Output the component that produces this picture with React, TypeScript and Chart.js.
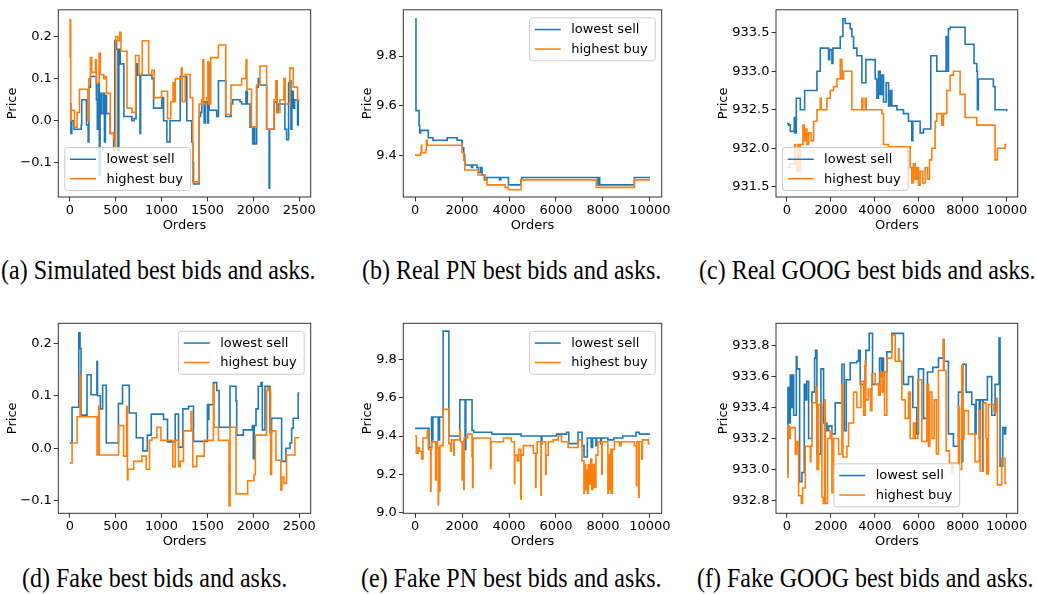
import React, { useEffect, useRef } from "react";
import { Chart, registerables } from "chart.js";

Chart.register(...registerables);

type Pt = [number, number];

// ---------- tick labels ----------
const ORDERS_SIM = [0, 500, 1000, 1500, 2000, 2500];
const ORDERS_REAL = [0, 2000, 4000, 6000, 8000, 10000];
const TICKS_SIM_Y = [-0.1, 0.0, 0.1, 0.2];
const TICKS_PN_REAL_Y = [9.4, 9.6, 9.8];
const TICKS_GOOG_REAL_Y = [931.5, 932.0, 932.5, 933.0, 933.5];
const TICKS_FAKE_Y = [-0.1, 0.0, 0.1, 0.2];
const TICKS_PN_FAKE_Y = [9.0, 9.2, 9.4, 9.6, 9.8];
const TICKS_GOOG_FAKE_Y = [932.8, 933.0, 933.2, 933.4, 933.6, 933.8];

const SERIES_NAMES = ["lowest sell", "highest buy"];
const CAPTIONS = [
  "(a) Simulated best bids and asks.",
  "(b) Real PN best bids and asks.",
  "(c) Real GOOG best bids and asks.",
  "(d) Fake best bids and asks.",
  "(e) Fake PN best bids and asks.",
  "(f) Fake GOOG best bids and asks.",
];

// ---------- (a) simulated ----------
const SIM_SELL: Pt[] = [[0,0.04],[12,-0.03],[22,0.0],[45,-0.02],[125,-0.01],[130,0.05],[182,-0.01],[200,-0.05],[208,0.08],[225,0.105],[290,0.05],[300,-0.02],[310,0.09],[322,-0.13],[330,0.065],[345,0.017],[365,0.065],[378,-0.05],[388,0.06],[400,0.017],[440,-0.03],[478,-0.07],[490,0.19],[510,0.17],[525,-0.07],[535,0.17],[550,0.135],[590,0.01],[677,0.0],[700,0.005],[722,0.135],[735,0.108],[765,-0.03],[772,0.108],[895,0.1],[913,0.03],[1003,0.055],[1022,0.0],[1058,-0.05],[1092,0.0],[1203,0.105],[1275,0.0],[1330,-0.05],[1340,-0.1],[1348,-0.15],[1409,0.01],[1425,0.02],[1438,0.045],[1464,-0.005],[1475,0.045],[1500,-0.005],[1511,0.135],[1518,0.025],[1601,0.01],[1620,0.095],[1699,0.01],[1757,0.04],[1775,0.05],[1855,0.045],[1873,0.04],[1920,0.07],[1935,0.04],[1964,-0.015],[1993,-0.055],[2005,-0.015],[2015,-0.055],[2036,0.08],[2054,0.1],[2065,0.085],[2145,-0.02],[2172,-0.16],[2178,-0.02],[2228,0.045],[2255,0.02],[2270,0.04],[2344,-0.02],[2362,-0.045],[2384,0.09],[2395,0.095],[2410,-0.02],[2420,0.07],[2435,0.03],[2450,0.05],[2482,-0.01],[2490,0.05],[2500,0.05]];
const SIM_BUY: Pt[] = [[0,0.15],[4,0.24],[10,0.0],[14,0.025],[51,-0.015],[80,0.02],[105,0.075],[196,0.0],[206,0.1],[225,0.15],[239,0.115],[280,0.145],[290,0.09],[320,0.16],[333,0.11],[370,0.1],[385,0.105],[400,0.065],[442,-0.03],[478,-0.04],[490,-0.07],[500,0.2],[522,0.19],[543,0.21],[558,0.165],[623,0.03],[677,0.02],[717,0.155],[754,0.11],[790,0.19],[859,0.11],[895,0.12],[920,0.055],[1000,0.07],[1065,0.005],[1101,0.045],[1125,0.09],[1137,0.045],[1150,0.1],[1215,0.125],[1225,0.045],[1257,0.11],[1311,0.055],[1340,-0.145],[1409,0.04],[1438,0.05],[1450,0.145],[1460,0.04],[1490,0.055],[1505,0.14],[1515,0.04],[1536,0.15],[1620,0.18],[1699,0.015],[1757,0.085],[1873,0.1],[1920,0.145],[1930,0.075],[1980,-0.015],[2036,0.085],[2072,0.13],[2145,-0.02],[2225,0.05],[2245,0.095],[2260,0.02],[2290,0.05],[2333,0.1],[2348,0.04],[2398,0.125],[2435,0.08],[2482,0.05],[2500,0.05]];

// ---------- (b) real PN ----------
const PN_REAL_SELL: Pt[] = [[0,9.95],[40,9.58],[170,9.52],[197,9.49],[240,9.50],[564,9.47],[762,9.46],[1368,9.47],[1791,9.46],[2003,9.43],[2073,9.40],[2116,9.36],[2400,9.35],[2450,9.36],[2637,9.35],[2708,9.33],[2800,9.35],[2849,9.32],[2950,9.30],[3060,9.31],[3600,9.30],[3650,9.31],[3977,9.28],[4500,9.30],[4541,9.31],[7786,9.28],[7820,9.31],[7860,9.28],[9337,9.31],[10000,9.31]];
const PN_REAL_BUY: Pt[] = [[0,9.40],[240,9.41],[270,9.44],[290,9.41],[451,9.42],[480,9.46],[522,9.44],[2003,9.41],[2073,9.38],[2116,9.34],[2680,9.32],[2990,9.30],[3060,9.28],[3836,9.27],[3977,9.26],[4513,9.30],[7715,9.27],[9337,9.30],[10000,9.30]];

// ---------- (c) real GOOG ----------
const GOOG_REAL_SELL: Pt[] = [[0,932.32],[76,932.30],[151,932.22],[333,932.40],[364,932.20],[424,932.65],[606,932.50],[803,932.75],[1364,933.00],[1515,933.30],[1894,933.15],[1940,933.28],[2045,933.10],[2090,933.30],[2424,933.45],[2545,933.68],[2651,933.62],[2878,933.55],[2954,933.45],[3030,933.30],[3181,933.20],[3409,932.85],[3590,933.15],[4015,932.90],[4090,932.65],[4166,933.00],[4242,932.70],[4318,932.95],[4394,932.60],[4515,932.85],[4621,932.55],[4697,932.75],[4772,932.55],[5000,932.50],[5303,932.45],[5530,932.35],[5681,932.10],[5727,932.35],[6060,932.20],[6212,932.25],[6545,933.20],[6818,933.00],[7242,933.45],[7272,933.00],[7348,933.55],[7424,933.57],[8105,933.35],[8514,933.10],[8636,933.00],[8666,932.50],[8711,932.90],[9393,932.80],[9469,932.50],[10000,932.48]];
const GOOG_REAL_BUY: Pt[] = [[0,931.75],[151,931.80],[348,932.05],[394,931.80],[454,931.70],[500,932.05],[530,931.70],[606,932.05],[727,932.30],[788,932.10],[833,932.25],[909,932.05],[985,932.20],[1091,932.10],[1212,932.35],[1364,932.50],[1515,932.65],[1560,932.50],[1818,932.65],[1970,932.75],[2121,932.80],[2272,932.90],[2424,933.15],[2500,932.90],[2575,933.00],[2954,932.50],[3409,932.65],[3454,932.50],[3560,932.65],[3606,932.50],[4318,932.45],[4394,932.05],[4621,932.02],[5606,931.75],[5681,931.55],[5757,931.80],[5833,931.60],[5909,931.75],[5984,931.52],[6060,931.70],[6181,931.55],[6287,931.75],[6394,931.60],[6485,931.85],[6590,932.00],[6742,932.35],[6818,932.45],[7045,932.30],[7121,932.45],[7272,932.75],[7424,932.95],[7575,933.00],[7878,932.70],[8105,932.40],[8636,932.30],[9469,931.85],[9575,932.00],[9924,932.05],[10000,932.05]];

// ---------- (d) fake ----------
const FAKE_SELL: Pt[] = [[0,0.01],[25,0.078],[98,0.22],[112,0.19],[123,0.063],[188,0.14],[232,0.102],[296,0.165],[302,0.1],[333,0.075],[358,0.12],[398,0.01],[530,0.085],[575,0.12],[648,0.067],[725,0.02],[797,-0.005],[845,0.025],[888,0.065],[1022,0.055],[1065,0.012],[1149,0.065],[1185,0.002],[1232,0.075],[1293,0.08],[1348,0.013],[1500,0.083],[1508,0.055],[1515,0.083],[1565,0.125],[1601,0.11],[1627,0.04],[1746,0.118],[1811,0.09],[1819,0.025],[1891,0.035],[1989,0.043],[2000,-0.02],[2010,0.043],[2029,0.075],[2054,0.118],[2085,0.125],[2098,0.035],[2127,0.118],[2181,0.03],[2199,0.057],[2308,-0.025],[2355,0.0],[2399,0.01],[2417,0.038],[2435,0.057],[2489,0.105],[2500,0.105]];
const FAKE_BUY: Pt[] = [[0,-0.028],[25,0.01],[80,0.06],[112,0.14],[120,0.06],[297,-0.013],[315,0.08],[322,-0.013],[532,0.043],[587,-0.015],[620,0.08],[628,-0.06],[634,-0.04],[696,-0.025],[786,-0.015],[833,-0.04],[869,0.015],[895,0.02],[949,0.04],[993,0.015],[1123,-0.035],[1149,0.015],[1185,-0.035],[1203,-0.025],[1239,0.033],[1322,0.07],[1330,0.033],[1340,-0.035],[1384,-0.015],[1464,0.015],[1565,0.12],[1572,0.04],[1620,0.015],[1735,-0.11],[1746,0.04],[1811,-0.087],[1938,-0.062],[2007,-0.05],[2022,0.025],[2145,0.11],[2155,0.115],[2170,0.11],[2188,-0.05],[2199,0.033],[2246,-0.023],[2300,-0.08],[2311,-0.055],[2333,-0.067],[2362,-0.013],[2453,0.02],[2500,0.02]];

// ---------- (e) fake PN ----------
const PN_FAKE_SELL: Pt[] = [[0,9.44],[592,9.34],[705,9.50],[730,9.38],[760,9.50],[987,9.38],[1044,9.50],[1199,9.95],[1439,9.40],[1904,9.59],[2130,9.33],[2160,9.59],[2426,9.43],[2496,9.42],[3272,9.41],[4513,9.40],[5370,9.36],[5400,9.40],[6022,9.41],[6446,9.42],[6544,9.36],[6939,9.42],[7109,9.35],[7193,9.29],[7334,9.39],[7500,9.34],[7560,9.39],[7700,9.35],[7730,9.39],[7900,9.36],[7930,9.39],[8209,9.38],[8463,9.39],[8843,9.40],[9407,9.42],[9548,9.41],[10000,9.41]];
const PN_FAKE_BUY: Pt[] = [[0,9.40],[56,9.31],[130,9.34],[180,9.32],[282,9.28],[338,9.39],[522,9.43],[564,9.33],[663,9.11],[680,9.33],[705,9.37],[874,9.17],[900,9.37],[960,9.34],[987,9.04],[1000,9.34],[1044,9.11],[1060,9.35],[1199,9.54],[1439,9.36],[1509,9.32],[1551,9.38],[1650,9.30],[1670,9.38],[1904,9.43],[1930,9.37],[2003,9.17],[2020,9.37],[2073,9.12],[2090,9.39],[2243,9.41],[2426,9.29],[2450,9.13],[2470,9.39],[3216,9.23],[3235,9.37],[3766,9.39],[4100,9.37],[4231,9.15],[4245,9.30],[4350,9.27],[4420,9.33],[4500,9.07],[4520,9.30],[4612,9.35],[5035,9.31],[5134,9.13],[5150,9.31],[5200,9.37],[5360,9.09],[5375,9.37],[5560,9.20],[5580,9.30],[5670,9.37],[5882,9.38],[6093,9.40],[6234,9.37],[6516,9.34],[6939,9.38],[7109,9.27],[7190,9.10],[7210,9.25],[7260,9.12],[7290,9.22],[7340,9.10],[7380,9.25],[7420,9.15],[7480,9.28],[7520,9.12],[7570,9.25],[7640,9.13],[7700,9.30],[7786,9.37],[7950,9.20],[7970,9.37],[8209,9.10],[8240,9.30],[8280,9.12],[8320,9.33],[8350,9.10],[8400,9.33],[8490,9.37],[8700,9.35],[8773,9.37],[9337,9.35],[9422,9.14],[9440,9.37],[9520,9.08],[9540,9.37],[9650,9.28],[9680,9.38],[9930,9.36],[10000,9.36]];

// ---------- (f) fake GOOG ----------
const GOOG_FAKE_SELL: Pt[] = [[0,932.98],[45,933.53],[106,933.30],[151,933.61],[220,933.40],[250,933.61],[303,933.35],[424,933.73],[454,933.65],[575,932.92],[681,932.98],[787,933.55],[860,933.45],[900,933.57],[984,933.20],[1136,933.50],[1257,933.72],[1300,933.77],[1363,933.10],[1545,933.65],[1666,933.30],[1818,933.25],[1894,933.28],[2045,933.23],[2196,933.43],[2500,933.68],[2606,933.25],[2697,933.58],[2878,933.69],[3181,933.70],[3257,933.77],[3333,933.55],[3560,933.67],[3590,933.77],[3742,933.88],[3893,933.55],[4212,933.72],[4300,933.60],[4330,933.72],[4394,933.63],[4545,933.76],[4772,933.88],[5303,933.55],[5530,933.60],[5727,933.40],[5909,933.23],[5984,933.65],[6212,933.33],[6394,933.63],[6636,933.66],[6894,933.72],[7120,933.84],[7151,933.70],[7348,933.23],[7575,933.15],[7803,933.50],[7950,933.05],[8000,933.68],[8151,933.50],[8409,933.42],[8560,933.23],[8606,933.45],[8750,933.20],[8790,933.45],[8900,932.99],[8930,933.45],[9120,933.60],[9318,933.35],[9469,933.55],[9651,933.85],[9697,933.02],[9818,933.27],[9900,933.23],[9950,933.27],[10000,933.27]];
const GOOG_FAKE_BUY: Pt[] = [[0,932.95],[45,933.28],[121,933.20],[151,933.27],[379,933.10],[454,933.18],[530,932.83],[651,932.78],[712,932.88],[833,933.15],[1060,933.05],[1090,933.15],[1136,933.43],[1318,933.53],[1363,933.00],[1439,933.42],[1591,932.82],[1650,932.78],[1712,933.45],[1742,932.78],[1848,933.20],[1970,933.25],[2045,932.85],[2121,933.20],[2348,933.10],[2500,933.55],[2545,933.08],[2727,933.15],[2803,933.30],[3030,933.50],[3181,933.40],[3363,933.57],[3484,933.35],[3560,933.70],[3590,933.45],[3700,933.52],[3800,933.38],[3863,933.62],[4015,933.55],[4166,933.48],[4242,933.63],[4330,933.50],[4394,933.63],[4439,933.35],[4545,933.72],[4772,933.87],[4924,933.70],[5075,933.78],[5100,933.70],[5227,933.45],[5378,933.33],[5530,933.50],[5606,933.20],[5757,933.30],[5833,933.20],[5954,933.58],[6136,933.18],[6363,933.55],[6440,933.15],[6500,933.50],[6600,933.20],[6700,933.45],[6800,933.10],[6894,933.64],[7120,933.84],[7150,933.64],[7242,933.12],[7393,933.04],[7500,932.98],[7550,933.04],[7803,933.40],[7848,933.00],[7954,933.67],[8015,933.20],[8060,933.38],[8257,933.23],[8560,933.05],[8757,933.38],[8788,932.99],[8939,933.43],[9060,933.20],[9090,932.97],[9166,933.42],[9424,933.37],[9545,933.46],[9575,932.90],[9772,933.07],[9924,932.91],[10000,932.91]];

// ---------- layout ----------
type Panel = {
  left: number; top: number; w: number; h: number;
  area: { l: number; t: number; r: number; b: number };
  xRange: [number, number]; yRange: [number, number];
  xTicks: number[]; yTicks: number[];
  sell: Pt[]; buy: Pt[];
  legend: "lower left" | "upper right" | "lower center";
  yTitleOff: number;
};

const PANELS: Panel[] = [
  { left: 0, top: 0, w: 340, h: 240, area: { l: 58.3, t: 6, r: 310.7, b: 197 }, xRange: [-125, 2625], yRange: [-0.181, 0.2635], xTicks: ORDERS_SIM, yTicks: TICKS_SIM_Y, sell: SIM_SELL, buy: SIM_BUY, legend: "lower left", yTitleOff: 45.8 },
  { left: 345, top: 0, w: 340, h: 240, area: { l: 58.3, t: 6, r: 316.7, b: 197 }, xRange: [-500, 10500], yRange: [9.231, 9.987], xTicks: ORDERS_REAL, yTicks: TICKS_PN_REAL_Y, sell: PN_REAL_SELL, buy: PN_REAL_BUY, legend: "upper right", yTitleOff: 35.8 },
  { left: 690, top: 0, w: 347, h: 240, area: { l: 86, t: 6, r: 327.7, b: 197 }, xRange: [-500, 10500], yRange: [931.368, 933.797], xTicks: ORDERS_REAL, yTicks: TICKS_GOOG_REAL_Y, sell: GOOG_REAL_SELL, buy: GOOG_REAL_BUY, legend: "lower left", yTitleOff: 52.6 },
  { left: 0, top: 290, w: 340, h: 260, area: { l: 58.3, t: 33.3, r: 310.7, b: 223.3 }, xRange: [-125, 2625], yRange: [-0.124, 0.238], xTicks: ORDERS_SIM, yTicks: TICKS_FAKE_Y, sell: FAKE_SELL, buy: FAKE_BUY, legend: "upper right", yTitleOff: 45.8 },
  { left: 345, top: 290, w: 340, h: 260, area: { l: 58.3, t: 33.3, r: 316.7, b: 223.3 }, xRange: [-500, 10500], yRange: [8.995, 9.991], xTicks: ORDERS_REAL, yTicks: TICKS_PN_FAKE_Y, sell: PN_FAKE_SELL, buy: PN_FAKE_BUY, legend: "upper right", yTitleOff: 35.8 },
  { left: 690, top: 290, w: 347, h: 260, area: { l: 86, t: 33.3, r: 327.7, b: 223.3 }, xRange: [-500, 10500], yRange: [932.716, 933.945], xTicks: ORDERS_REAL, yTicks: TICKS_GOOG_FAKE_Y, sell: GOOG_FAKE_SELL, buy: GOOG_FAKE_BUY, legend: "lower center", yTitleOff: 52.6 },
];

const CAPTION_POS = [
  { left: 1, top: 258 }, { left: 362, top: 258 }, { left: 699, top: 258 },
  { left: 22, top: 566 }, { left: 361, top: 566 }, { left: 697, top: 566 },
];

const BLUE = "#1f77b4";
const ORANGE = "#ff7f0e";
const FONT = "13px 'DejaVu Sans'";

const mplPlugin = {
  id: "mpl",
  afterDatasetsDraw(chart: any, _args: any, opts: any) {
    const { ctx, chartArea: a } = chart;
    ctx.save();
    // frame
    ctx.strokeStyle = "#333333";
    ctx.lineWidth = 1;
    ctx.strokeRect(a.left, a.top, a.right - a.left, a.bottom - a.top);
    // axis titles
    ctx.fillStyle = "#000";
    ctx.font = FONT;
    ctx.textAlign = "center";
    ctx.textBaseline = "alphabetic";
    ctx.fillText("Orders", (a.left + a.right) / 2, a.bottom + 31.5);
    ctx.save();
    ctx.translate(a.left - opts.yTitleOff, (a.top + a.bottom) / 2);
    ctx.rotate(-Math.PI / 2);
    ctx.textBaseline = "middle";
    ctx.fillText("Price", 0, 0);
    ctx.restore();
    // legend
    const tw = Math.max(...SERIES_NAMES.map((s) => ctx.measureText(s).width));
    const bw = 41.6 + tw + 7.5;
    const bh = 43;
    const pad = 6.5;
    let bx = a.left + pad;
    let by = a.bottom - pad - bh;
    if (opts.legend === "upper right") { bx = a.right - pad - bw; by = a.top + pad + 1.5; }
    if (opts.legend === "lower center") { bx = (a.left + a.right) / 2 - bw / 2; }
    const r = 2.6;
    ctx.beginPath();
    ctx.moveTo(bx + r, by);
    ctx.arcTo(bx + bw, by, bx + bw, by + bh, r);
    ctx.arcTo(bx + bw, by + bh, bx, by + bh, r);
    ctx.arcTo(bx, by + bh, bx, by, r);
    ctx.arcTo(bx, by, bx + bw, by, r);
    ctx.closePath();
    ctx.fillStyle = "rgba(255,255,255,0.8)";
    ctx.fill();
    ctx.strokeStyle = "#cccccc";
    ctx.lineWidth = 1;
    ctx.stroke();
    const cols = [BLUE, ORANGE];
    SERIES_NAMES.forEach((name, i) => {
      const yy = by + 11.75 + i * 19.5;
      ctx.strokeStyle = cols[i];
      ctx.lineWidth = 1.5;
      ctx.beginPath();
      ctx.moveTo(bx + 5.2, yy);
      ctx.lineTo(bx + 31.2, yy);
      ctx.stroke();
      ctx.fillStyle = "#000";
      ctx.textAlign = "left";
      ctx.textBaseline = "middle";
      ctx.fillText(name, bx + 41.6, yy + 0.5);
    });
    ctx.restore();
  },
};

const fmt = (v: number) => v.toFixed(1).replace("-", "\u2212");

function PanelChart({ p }: { p: Panel }) {
  const ref = useRef<HTMLCanvasElement | null>(null);
  useEffect(() => {
    if (!ref.current) return;
    const tickFont = { family: "DejaVu Sans", size: 13 };
    const grid = { display: true, drawOnChartArea: false, drawTicks: true, tickLength: 4.5, color: "#333333", lineWidth: 1 };
    const chart = new Chart(ref.current, {
      type: "line",
      data: {
        datasets: [
          { label: SERIES_NAMES[0], data: p.sell.map(([x, y]) => ({ x, y })), borderColor: BLUE, borderWidth: 1.6, pointRadius: 0, stepped: true, fill: false, order: 1 },
          { label: SERIES_NAMES[1], data: p.buy.map(([x, y]) => ({ x, y })), borderColor: ORANGE, borderWidth: 1.6, pointRadius: 0, stepped: true, fill: false, order: 0 },
        ],
      },
      options: {
        animation: false,
        responsive: false,
        devicePixelRatio: 1,
        events: [],
        layout: { padding: { left: 0, top: p.area.t, right: p.w - p.area.r, bottom: 0 } },
        plugins: { legend: { display: false }, tooltip: { enabled: false }, mpl: { legend: p.legend, yTitleOff: p.yTitleOff } } as any,
        scales: {
          x: {
            type: "linear", min: p.xRange[0], max: p.xRange[1],
            grid, border: { display: false },
            ticks: { font: tickFont, color: "#000", padding: 1, autoSkip: false, maxRotation: 0, callback: (v: any) => String(v) },
            afterBuildTicks: (s: any) => { s.ticks = p.xTicks.map((v) => ({ value: v })); },
            afterFit: (s: any) => { s.height = p.h - p.area.b; },
          },
          y: {
            type: "linear", min: p.yRange[0], max: p.yRange[1],
            grid, border: { display: false },
            ticks: { font: tickFont, color: "#000", padding: 2, autoSkip: false, callback: (v: any) => fmt(Number(v)) },
            afterBuildTicks: (s: any) => { s.ticks = p.yTicks.map((v) => ({ value: v })); },
            afterFit: (s: any) => { s.width = p.area.l; },
          },
        },
      } as any,
      plugins: [mplPlugin],
    });
    return () => chart.destroy();
  }, [p]);
  return (
    <canvas
      ref={ref}
      width={p.w}
      height={p.h}
      style={{ position: "absolute", left: p.left, top: p.top, width: p.w, height: p.h }}
    />
  );
}

export default function App() {
  return (
    <div style={{ position: "absolute", left: 0, top: 0, width: 1037, height: 594, background: "#fff", overflow: "hidden" }}>
      {PANELS.map((p, i) => (
        <PanelChart key={i} p={p} />
      ))}
      {CAPTIONS.map((c, i) => (
        <div
          key={"c" + i}
          style={{
            position: "absolute",
            left: CAPTION_POS[i].left,
            top: CAPTION_POS[i].top,
            fontFamily: "'Liberation Serif', 'Times New Roman', serif",
            fontSize: 24,
            lineHeight: "24px",
            whiteSpace: "nowrap",
            color: "#000",
            transform: "scaleY(1.12)",
            transformOrigin: "left center",
          }}
        >
          {c}
        </div>
      ))}
    </div>
  );
}
